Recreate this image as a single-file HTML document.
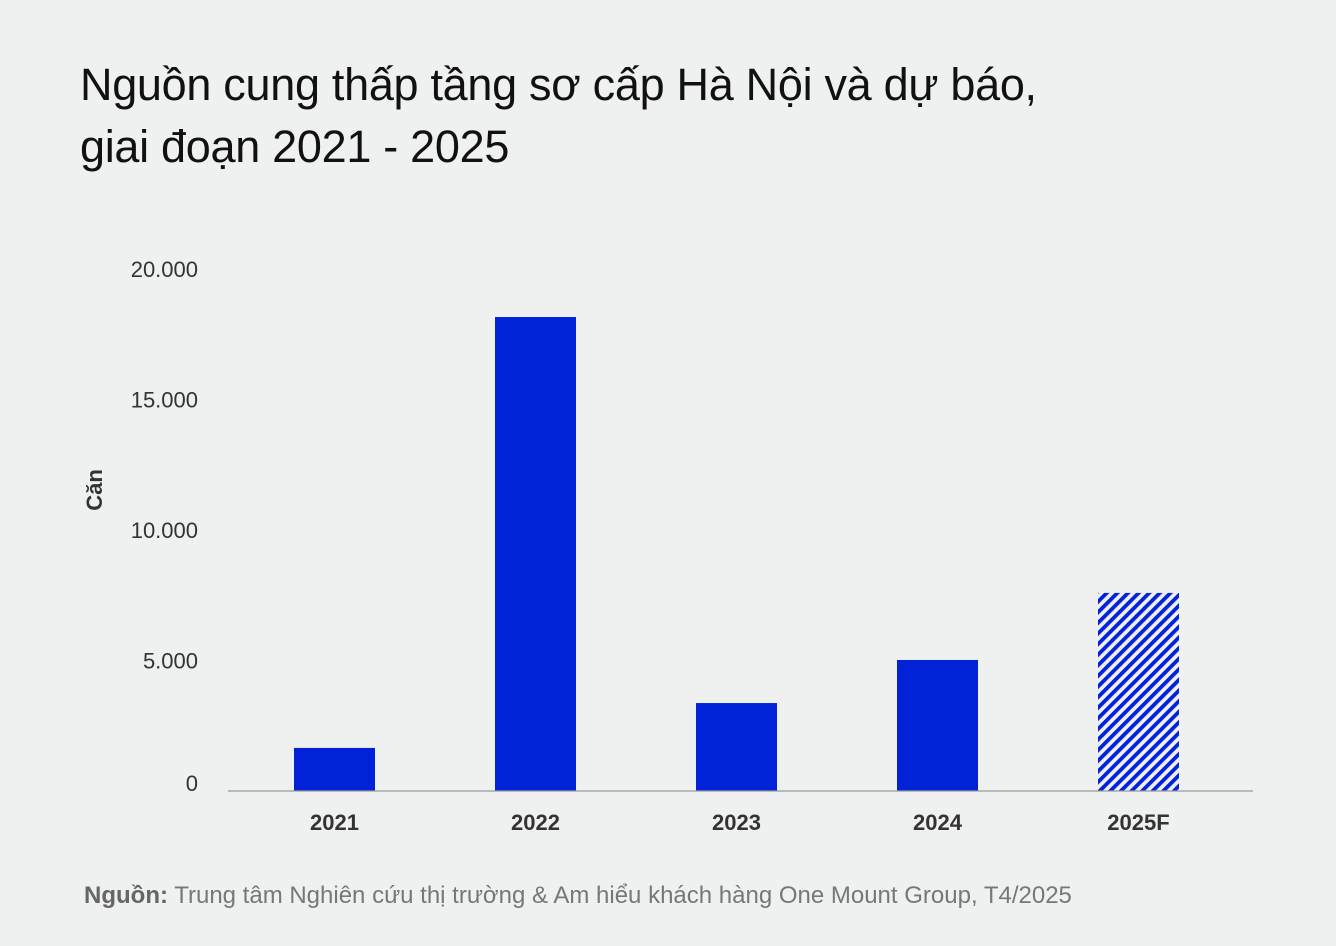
<!DOCTYPE html>
<html><head><meta charset="utf-8">
<style>
body{margin:0;background:#eff0f0;font-family:"Liberation Sans",sans-serif;}
#wrap{position:relative;width:1336px;height:946px;background:#eff0f0;overflow:hidden}
.title{position:absolute;left:80px;top:54px;font-size:45px;line-height:62px;font-weight:500;color:#111;margin:0;letter-spacing:-0.3px}
.src{position:absolute;left:84px;top:882px;font-size:24px;color:#777}
.src b{color:#666}
</style></head><body>
<div id="wrap">
<h1 class="title">Nguồn cung thấp tầng sơ cấp Hà Nội và dự báo,<br>giai đoạn 2021 - 2025</h1>
<svg id="chart" width="1336" height="946" style="position:absolute;left:0;top:0">
<defs><pattern id="hatch" patternUnits="userSpaceOnUse" width="7.5" height="7.5" patternTransform="rotate(45)">
<rect x="0" y="0" width="3.8" height="7.5" fill="#0222d8"/></pattern></defs>
</svg>
<div class="src"><b>Nguồn:</b> Trung tâm Nghiên cứu thị trường &amp; Am hiểu khách hàng One Mount Group, T4/2025</div>
</div>
<script>
const categories=["2021","2022","2023","2024","2025F"];
const values=[1650,18160,3370,5020,7590];
const forecast=[false,false,false,false,true];
const ticks=[0,5000,10000,15000,20000];
const tickLabels=["0","5.000","10.000","15.000","20.000"];
const NS="http://www.w3.org/2000/svg";
const svg=document.getElementById('chart');
const y0=791,pxPer=522/20000;
const y=v=>y0-v*pxPer;
const x=i=>334.5+i*201;
const bw=81;
function mk(t,a){const e=document.createElementNS(NS,t);for(const k in a)e.setAttribute(k,a[k]);svg.appendChild(e);return e;}
ticks.forEach((t,i)=>{
 const e=mk('text',{x:198,y:(t===0?y(t)+0:y(t)+8),'text-anchor':'end','font-size':22,fill:'#333','font-family':'Liberation Sans, sans-serif'});
 
 
 e.textContent=tickLabels[i];
});
const yt=mk('text',{x:0,y:0,transform:'translate(102,490) rotate(-90)','text-anchor':'middle','font-size':22,'font-weight':'bold',fill:'#333'});


yt.textContent='Căn';
values.forEach((v,i)=>{
 const r=mk('rect',{x:x(i)-bw/2,y:y(v),width:bw,height:y0-y(v),fill:forecast[i]?'url(#hatch)':'#0222d8'});
 
 
 const l=mk('text',{x:x(i),y:830,'text-anchor':'middle','font-size':22,'font-weight':'bold',fill:'#333'});
 
 
 l.textContent=categories[i];
});
const ax=mk('line',{x1:228,x2:1253,y1:y0,y2:y0,stroke:'#999','stroke-width':1.2});


</script>
</body></html>
